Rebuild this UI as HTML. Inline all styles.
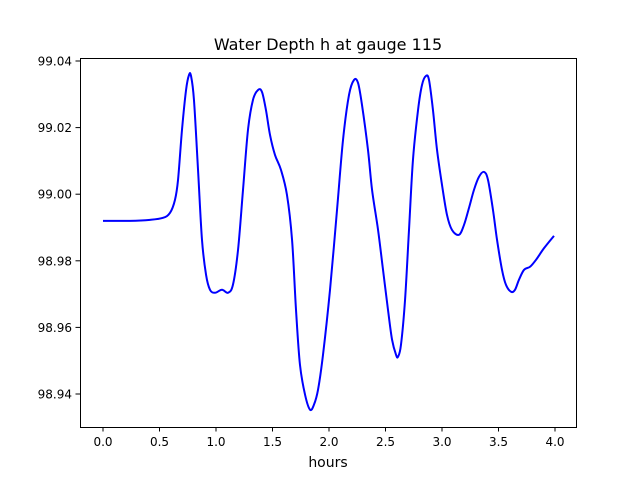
<!DOCTYPE html>
<html><head><meta charset="utf-8"><style>
body{margin:0;background:#fff;}
svg{display:block;font-family:"DejaVu Sans","Liberation Sans",sans-serif;}
</style></head><body>
<svg id="chart" width="640" height="480">
<rect width="640" height="480" fill="#fff"/>
<text x="328" y="50" text-anchor="middle" font-size="16">Water Depth h at gauge 115</text>
<g id="ticks"></g>
<path id="line" fill="none" stroke="#0000ff" stroke-width="2"/>
<rect x="80.5" y="58.5" width="496" height="369" fill="none" stroke="#000" stroke-width="1"/>
<text x="328" y="467" text-anchor="middle" font-size="14">hours</text>
</svg>
<script>
const hours=[0,0.239,0.416,0.531,0.593,0.637,0.664,0.699,0.735,0.761,0.779,0.805,0.841,0.876,0.912,0.947,0.991,1.053,1.106,1.150,1.195,1.239,1.283,1.327,1.372,1.407,1.442,1.478,1.522,1.575,1.628,1.673,1.708,1.743,1.788,1.832,1.867,1.903,1.947,2.009,2.071,2.124,2.177,2.221,2.257,2.292,2.345,2.381,2.434,2.478,2.522,2.558,2.593,2.611,2.637,2.673,2.708,2.743,2.788,2.823,2.858,2.885,2.920,2.956,3.000,3.044,3.088,3.150,3.195,3.239,3.283,3.327,3.372,3.407,3.451,3.487,3.531,3.566,3.611,3.646,3.681,3.726,3.779,3.832,3.903,3.991];
const depth=[98.9920,98.9920,98.9923,98.9929,98.9944,98.9983,99.0043,99.0193,99.0313,99.0358,99.0355,99.0283,99.0073,98.9863,98.9758,98.9713,98.9704,98.9713,98.9704,98.9728,98.9833,99.0013,99.0193,99.0283,99.0313,99.0307,99.0253,99.0178,99.0118,99.0073,98.9998,98.9863,98.9653,98.9488,98.9398,98.9353,98.9368,98.9413,98.9518,98.9713,98.9953,99.0163,99.0298,99.0343,99.0334,99.0268,99.0133,99.0013,98.9893,98.9773,98.9653,98.9563,98.9518,98.9512,98.9548,98.9683,98.9893,99.0103,99.0253,99.0328,99.0355,99.0343,99.0253,99.0133,99.0028,98.9938,98.9893,98.9878,98.9908,98.9959,99.0013,99.0052,99.0067,99.0043,98.9953,98.9863,98.9773,98.9728,98.9707,98.9713,98.9743,98.9773,98.9782,98.9803,98.9838,98.9875];
const xTicks=[0,0.5,1,1.5,2,2.5,3,3.5,4];
const xTickLabels=["0.0","0.5","1.0","1.5","2.0","2.5","3.0","3.5","4.0"];
const yTicks=[98.94,98.96,98.98,99.00,99.02,99.04];
const yTickLabels=["98.94","98.96","98.98","99.00","99.02","99.04"];
const xs=v=>103+v*113;
const ys=v=>394-(v-98.94)/0.1*333;
const NS="http://www.w3.org/2000/svg";
const g=document.getElementById('ticks');
xTicks.forEach((t,i)=>{
 const l=document.createElementNS(NS,'line');
 l.setAttribute('x1',xs(t));l.setAttribute('x2',xs(t));l.setAttribute('y1',427);l.setAttribute('y2',431.5);l.setAttribute('stroke','#000');
 
 
 g.appendChild(l);
 const tx=document.createElementNS(NS,'text');
 tx.setAttribute('x',xs(t));tx.setAttribute('y',446);tx.setAttribute('text-anchor','middle');tx.setAttribute('font-size','12');
 tx.textContent=xTickLabels[i];
 
 
 g.appendChild(tx);
});
yTicks.forEach((t,i)=>{
 const l=document.createElementNS(NS,'line');
 l.setAttribute('x1',75.5);l.setAttribute('x2',80);l.setAttribute('y1',ys(t));l.setAttribute('y2',ys(t));l.setAttribute('stroke','#000');
 
 
 g.appendChild(l);
 const tx=document.createElementNS(NS,'text');
 tx.setAttribute('x',72);tx.setAttribute('y',ys(t)+4.5);tx.setAttribute('text-anchor','end');tx.setAttribute('font-size','12');
 tx.textContent=yTickLabels[i];
 
 
 g.appendChild(tx);
});
const P=hours.map((h,i)=>[xs(h),ys(depth[i])]);
let d='M'+P[0][0]+','+P[0][1];
for(let i=0;i<P.length-1;i++){
 const p0=P[Math.max(0,i-1)],p1=P[i],p2=P[i+1],p3=P[Math.min(P.length-1,i+2)];
 const c1=[p1[0]+(p2[0]-p0[0])/6,p1[1]+(p2[1]-p0[1])/6];
 const c2=[p2[0]-(p3[0]-p1[0])/6,p2[1]-(p3[1]-p1[1])/6];
 d+=' C'+c1.join(',')+' '+c2.join(',')+' '+p2.join(',');
}
document.getElementById('line').setAttribute('d',d);
</script>
</body></html>
